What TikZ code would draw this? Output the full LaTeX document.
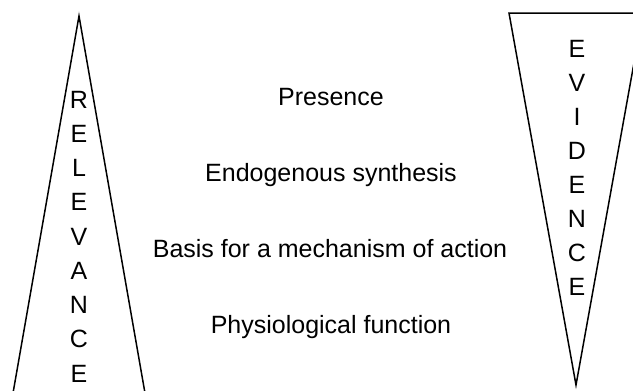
\documentclass[tikz,border=0pt]{standalone}
\usepackage{fontspec}
\setmainfont{Liberation Sans}
\begin{document}
\begin{tikzpicture}[x=1pt,y=-1pt,
  lbl/.style={anchor=base, inner sep=0pt, font=\fontsize{25}{30}\selectfont},
  tri/.style={draw=black, line width=1.5pt, line join=miter}]
\useasboundingbox (0,0) rectangle (633,391);
\begin{scope}
  \clip (0,0) rectangle (633,391);
  \draw[tri] (79,16) -- (12.5,396) -- (145.5,396) -- cycle;
  \draw[tri] (509,13) -- (643,13) -- (576,385) -- cycle;
\end{scope}
\foreach \l [count=\i from 0] in {R,E,L,E,V,A,N,C,E}
  \node[lbl] (rel\i) at (79,108+34.25*\i) {\l};
\foreach \l [count=\i from 0] in {E,V,I,D,E,N,C,E}
  \node[lbl] (evi\i) at (577,57+34*\i) {\l};
\node[lbl] (presence) at (331,105) {Presence};
\node[lbl] (endo) at (331,181) {Endogenous synthesis};
\node[lbl] (basis) at (330,257) {Basis for a mechanism of action};
\node[lbl] (physio) at (331,333) {Physiological function};
\end{tikzpicture}
\end{document}
